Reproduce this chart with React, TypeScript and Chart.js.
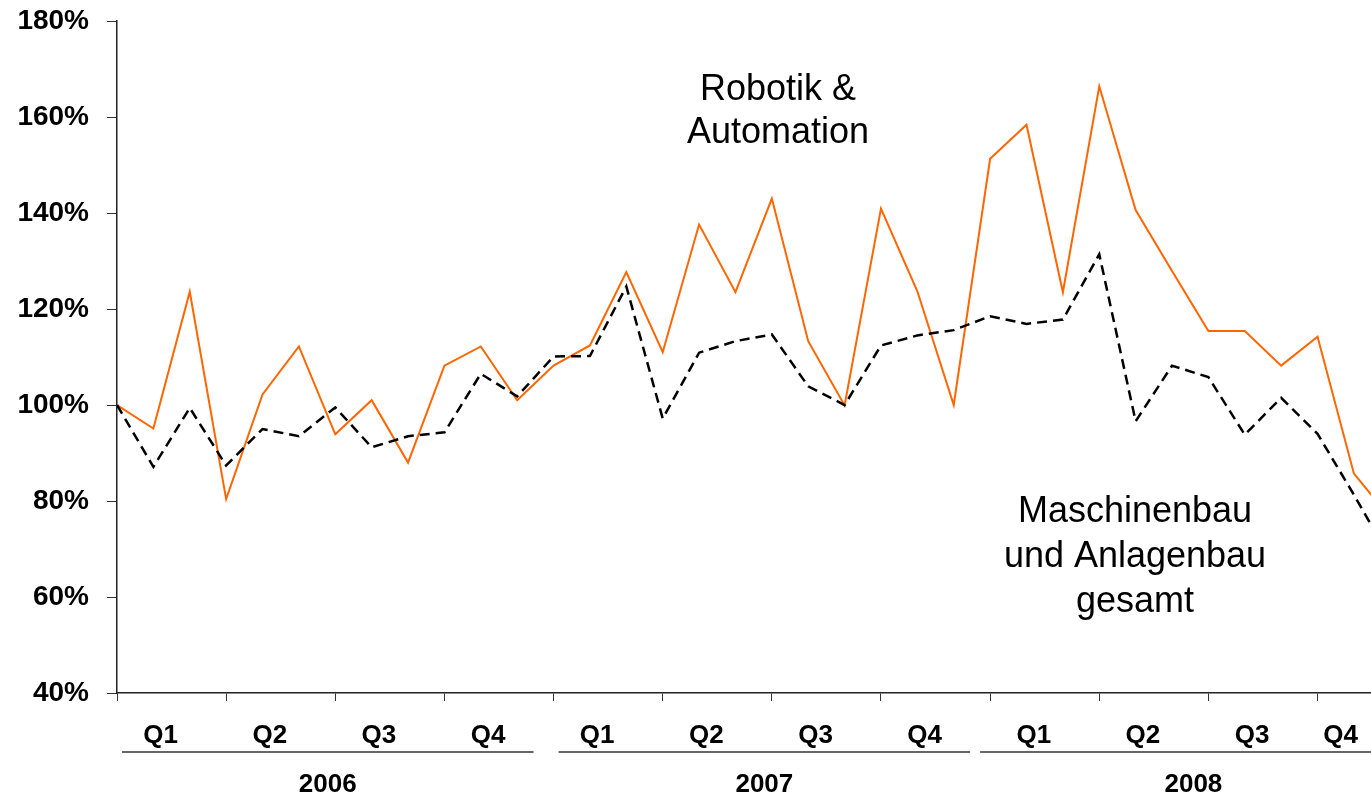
import React, { useEffect, useRef } from 'react';
import { Chart, registerables } from 'chart.js';

Chart.register(...registerables);

// ---- data ----
const months = [
  'Jan 06', 'Feb 06', 'Mrz 06', 'Apr 06', 'Mai 06', 'Jun 06', 'Jul 06', 'Aug 06', 'Sep 06', 'Okt 06', 'Nov 06', 'Dez 06',
  'Jan 07', 'Feb 07', 'Mrz 07', 'Apr 07', 'Mai 07', 'Jun 07', 'Jul 07', 'Aug 07', 'Sep 07', 'Okt 07', 'Nov 07', 'Dez 07',
  'Jan 08', 'Feb 08', 'Mrz 08', 'Apr 08', 'Mai 08', 'Jun 08', 'Jul 08', 'Aug 08', 'Sep 08', 'Okt 08', 'Nov 08', 'Dez 08',
];

const robotik = [
  100, 95.1, 123.6, 80.4, 102.2, 112.2, 93.9, 101.0, 88.0, 108.2, 112.2, 101.0,
  108.2, 112.4, 127.7, 111.0, 137.6, 123.5, 143.0, 113.3, 99.9, 140.9, 123.7, 100.0,
  151.3, 158.4, 123.5, 166.4, 140.6, 127.9, 115.4, 115.4, 108.2, 114.2, 85.7, 76.5,
];

const maschinenbau = [
  100, 87.1, 99.4, 87.4, 95.0, 93.5, 99.5, 91.2, 93.5, 94.3, 106.5, 101.8,
  110.1, 110.2, 124.7, 97.2, 110.9, 113.3, 114.7, 103.9, 100.0, 112.4, 114.5, 115.6,
  118.5, 116.9, 117.8, 131.4, 96.6, 108.2, 105.8, 93.8, 101.5, 94.0, 81.3, 68.0,
];

const quarterLabels = ['Q1', 'Q2', 'Q3', 'Q4'];
const yearLabels = ['2006', '2007', '2008'];
const robotikLabel = ['Robotik &', 'Automation'];
const maschinenLabel = ['Maschinenbau', 'und Anlagenbau', 'gesamt'];

// ---- layout / style ----
const W = 1371;
const H = 797;
const AXIS_LEFT = 117;
const MONTH_PX = 36.38;
const FONT = "'Liberation Sans', Arial, Helvetica, sans-serif";

const decorPlugin = {
  id: 'decor',
  afterDraw(chart: any) {
    const ctx = chart.ctx as CanvasRenderingContext2D;
    const xs = chart.scales.x;
    ctx.save();
    ctx.fillStyle = '#000';
    ctx.textAlign = 'center';
    ctx.textBaseline = 'alphabetic';
    ctx.font = `bold 26px ${FONT}`;
    yearLabels.forEach((yr, yi) => {
      quarterLabels.forEach((q, qi) => {
        const idx = yi * 4 + qi;
        let px = xs.getPixelForValue(idx * 3 + 1.2);
        const w = ctx.measureText(q).width;
        px = Math.min(px, chart.width - w / 2 - 13);
        ctx.fillText(q, px, 743);
      });
      const start = xs.getPixelForValue(yi * 12) + (yi === 2 ? -10 : 5);
      const end = xs.getPixelForValue(yi * 12 + 12) - 20;
      ctx.strokeStyle = '#333';
      ctx.lineWidth = 1.5;
      ctx.beginPath();
      ctx.moveTo(start, 752);
      ctx.lineTo(Math.min(end, chart.width), 752);
      ctx.stroke();
      ctx.fillText(yr, (start + end) / 2, 792);
    });

    ctx.font = `36px ${FONT}`;
    robotikLabel.forEach((t, i) => ctx.fillText(t, 778, 100 + i * 43));
    maschinenLabel.forEach((t, i) => ctx.fillText(t, 1135, 522 + i * 45));
    ctx.restore();
  },
};

export default function App() {
  const ref = useRef<HTMLCanvasElement | null>(null);

  useEffect(() => {
    document.body.style.margin = '0';
    const canvas = ref.current;
    if (!canvas) return;
    const chart = new Chart(canvas, {
      type: 'line',
      data: {
        labels: months,
        datasets: [
          {
            label: 'Maschinenbau und Anlagenbau gesamt',
            data: maschinenbau.map((v, i) => ({ x: i, y: v })),
            borderColor: '#000000',
            borderWidth: 2.5,
            borderDash: [10, 6],
            pointRadius: 0,
            tension: 0,
            fill: false,
          },
          {
            label: 'Robotik & Automation',
            data: robotik.map((v, i) => ({ x: i, y: v })),
            borderColor: '#ff6600',
            borderWidth: 2,
            pointRadius: 0,
            tension: 0,
            fill: false,
          },
        ],
      },
      options: {
        responsive: false,
        animation: false,
        devicePixelRatio: 1,
        layout: { padding: { top: 21, right: 0, left: 0, bottom: 0 } },
        plugins: {
          legend: { display: false },
          tooltip: { enabled: false },
        },
        scales: {
          x: {
            type: 'linear',
            min: 0,
            max: (W - AXIS_LEFT) / MONTH_PX,
            ticks: { stepSize: 3, includeBounds: false, display: false },
            grid: { drawOnChartArea: false, tickLength: 8, color: '#333', lineWidth: 1 },
            border: { color: '#222', width: 1.5 },
            afterFit: (s: any) => {
              s.height = H - 693;
              s.paddingLeft = 0;
              s.paddingRight = 0;
            },
          },
          y: {
            min: 40,
            max: 180,
            ticks: {
              stepSize: 20,
              callback: (v: any) => `${v}%`,
              font: { family: FONT, size: 28, weight: 'bold' },
              color: '#000',
              padding: 18,
            },
            grid: { drawOnChartArea: false, tickLength: 10, color: '#333', lineWidth: 1 },
            border: { color: '#222', width: 1.5 },
            afterFit: (s: any) => {
              s.width = AXIS_LEFT;
              s.paddingTop = 0;
              s.paddingBottom = 0;
            },
          },
        },
      },
      plugins: [decorPlugin],
    });
    return () => chart.destroy();
  }, []);

  return (
    <div style={{ position: 'absolute', left: 0, top: 0, width: W, height: H, background: '#fff' }}>
      <canvas ref={ref} width={W} height={H} />
    </div>
  );
}
